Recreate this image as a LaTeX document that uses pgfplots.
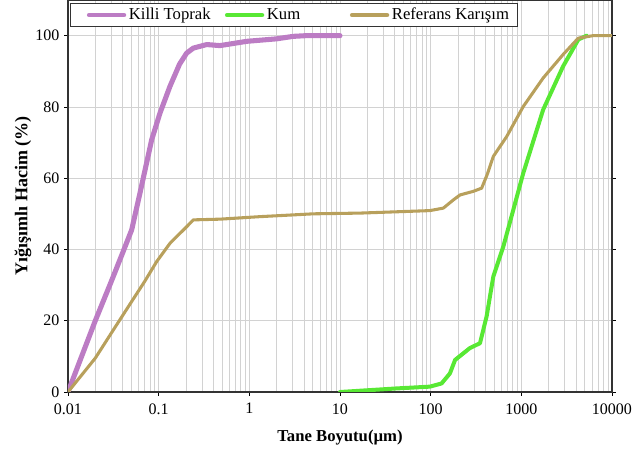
\documentclass[border=0pt]{standalone}
\usepackage{pgfplots}
\pgfplotsset{compat=1.18}
\usepackage{fontspec}
\setmainfont{Liberation Serif}
\definecolor{cpurple}{RGB}{188,124,196}
\definecolor{cgreen}{RGB}{88,232,52}
\definecolor{ctan}{RGB}{184,160,92}
\begin{document}
\begin{tikzpicture}
\begin{axis}[
  scale only axis,
  width=408pt, height=294pt,
  xmode=log, xmin=0.01, xmax=10000,
  ymin=0, ymax=110,
  ytick={0,20,40,60,80,100},
  xtick={0.01,0.1,1,10,100,1000,10000},
  xticklabels={0.01,0.1,1,10,100,1000,10000},
  minor xtick={0.02,0.03,0.04,0.05,0.06,0.07,0.08,0.09,
    0.2,0.3,0.4,0.5,0.6,0.7,0.8,0.9,
    2,3,4,5,6,7,8,9,20,30,40,50,60,70,80,90,
    200,300,400,500,600,700,800,900,2000,3000,4000,5000,6000,7000,8000,9000},
  tick align=outside,
  major tick length=3pt,
  minor tick length=0pt,
  tick style={black, line width=0.6pt},
  axis line style={line width=0.8pt, black!80},
  xmajorgrids, xminorgrids, ymajorgrids,
  major grid style={gray!35, line width=0.5pt},
  minor grid style={gray!35, line width=0.5pt},
  ticklabel style={font=\fontsize{12}{14}\selectfont},
  xticklabel style={yshift=-2pt},
  /pgf/number format/assume math mode=true,
  xlabel={\textbf{Tane Boyutu(µm)}},
  ylabel={\textbf{Yığışımlı Hacim (\%)}},
  xlabel style={font=\fontsize{12.5}{14}\selectfont, yshift=-5pt},
  ylabel style={font=\fontsize{13.5}{15}\selectfont, yshift=-4pt},
  legend columns=3,
  legend style={at={(rel axis cs:0.004,0.992)}, anchor=north west,
    draw=black!80, line width=0.6pt, font=\fontsize{12.5}{13}\selectfont,
    inner xsep=4pt, inner ysep=1.5pt,
    /tikz/column 2/.style={column sep=0.5pt},
    /tikz/column 4/.style={column sep=27pt}},
  legend cell align=left,
  legend image code/.code={\path[draw=none,fill=none] (-10pt,0pt) -- (0pt,0pt);
    \draw[#1, line width=3.5pt, line cap=round] (0pt,0pt) -- (26pt,0pt);},
]
\addplot[cpurple, line width=3.8pt, line join=round, line cap=round] coordinates {
(0.01,0) (0.02,20) (0.03,31) (0.04,39) (0.0504,45.5) (0.0622,55.8) (0.0838,70.8)
(0.1035,78.3) (0.1334,85.8) (0.17,92) (0.2037,95.1) (0.241,96.5) (0.339,97.5)
(0.474,97.2) (0.935,98.4) (2.0,99.1) (3.05,99.8) (4.27,100) (10,100)};
\addlegendentry{Killi Toprak}
\addplot[cgreen, line width=3pt, line join=round, line cap=round] coordinates {
(10,0) (42,1.0) (98,1.5) (132,2.4) (163,5.2) (186,9.0) (270,12.3) (350,13.7)
(414,21.2) (491,32.4) (633,40.8) (1050,61.4) (1740,79.2) (2890,91.4) (4250,98.9) (5250,100)};
\addlegendentry{Kum}
\addplot[ctan, line width=2.3pt, line join=round, line cap=round] coordinates {
(0.01,0) (0.02,9.5) (0.03,16.5) (0.0504,25.4) (0.07,31) (0.0951,36.6) (0.134,41.8)
(0.204,46.4) (0.241,48.3) (0.474,48.5) (1.3,49.2) (5.1,50) (16.5,50.2) (98,50.9)
(138,51.6) (178,53.9) (211,55.3) (295,56.3) (365,57.2) (420,61) (491,66.1) (690,71.7)
(1050,80.1) (1740,88.1) (2890,94.7) (4250,99.3) (6200,100) (10000,100)};
\addlegendentry{Referans Karışım}
\end{axis}
\pgfresetboundingbox
\path[use as bounding box] ([xshift=-51pt,yshift=-51.75pt]current axis.south west) rectangle ([xshift=21.75pt]current axis.north east);
\end{tikzpicture}
\end{document}
